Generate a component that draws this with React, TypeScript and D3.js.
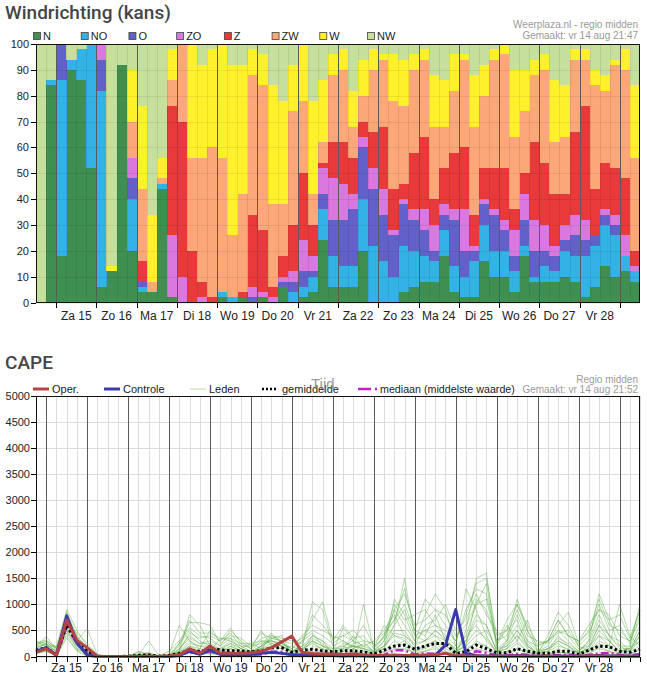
import * as d3 from "d3";

// windrichting, kans in % per 6 uur (14 aug 12:00 .. 29 aug 06:00)
const DIR_N = [0,84,18,90,86,52,6,12,92,20, 4,4,44,2,0,0,0,0,2,0, 2,0,2,0,6,0,2,4,24,6, 6,6,20,0,0,0,4,6,8,8, 18,4,2,2,16,10,10,4,18,8, 8,8,10,8,2,6,14,10,12,8];
const DIR_NO = [0,2,68,4,12,48,76,0,0,20, 2,0,2,0,0,0,0,0,2,2, 0,0,0,0,0,4,4,6,12,12, 8,8,20,22,16,10,18,14,10,8, 10,10,8,14,14,10,10,8,4,2, 6,4,10,10,16,16,16,16,6,4];
const DIR_O = [0,0,14,0,0,0,12,0,0,8, 2,0,0,0,0,0,0,0,0,0, 0,2,0,0,2,4,6,2,6,14, 18,22,20,22,18,16,16,12,10,4, 6,18,10,4,8,14,8,6,10,10, 6,6,4,8,6,4,4,4,0,0];
const DIR_ZO = [0,0,0,0,0,0,6,0,0,8, 0,0,0,24,10,0,2,0,0,0, 0,4,2,2,2,4,12,6,10,16, 14,6,4,8,10,2,2,4,8,10, 4,4,16,2,2,2,4,10,10,12, 10,4,6,8,8,0,2,4,8,2];
const DIR_Z = [0,0,0,0,0,0,0,0,0,0, 8,0,0,50,60,20,6,2,0,0, 2,28,24,4,8,18,26,12,2,14, 16,14,6,14,24,16,6,22,28,10, 14,22,24,12,12,16,20,8,8,30, 24,20,12,32,44,18,18,18,22,6];
const DIR_ZW = [0,0,0,0,0,0,0,0,0,14, 28,4,2,10,30,36,48,58,52,24, 38,54,56,32,20,44,28,12,8,26, 28,12,10,24,26,34,30,32,30,28, 16,24,34,34,28,42,44,28,24,26, 36,20,22,28,18,40,28,40,42,36];
const DIR_W = [0,0,0,0,0,0,0,2,0,20, 32,26,8,12,0,44,36,38,44,66, 50,10,12,46,40,18,22,36,24,8, 8,14,14,8,2,18,18,6,4,20, 18,14,2,20,12,4,4,26,16,6, 6,24,20,4,4,6,6,2,8,28];
const DIR_NW = [100,14,0,6,2,0,0,86,8,10, 24,66,44,2,0,0,8,2,0,8, 8,2,4,16,22,8,0,22,14,4, 2,18,6,2,4,4,6,4,2,12, 14,4,4,12,8,2,0,10,10,6, 4,14,16,2,2,10,12,6,2,16];

const DIR_KEYS = ["N", "NO", "O", "ZO", "Z", "ZW", "W", "NW"];
const DIR_COLORS = ["#3f8f50", "#33b2e6", "#6161c9", "#d978de", "#e8393b", "#fba777", "#fff02c", "#c4e09c"];
const DIR_VALUES = [DIR_N, DIR_NO, DIR_O, DIR_ZO, DIR_Z, DIR_ZW, DIR_W, DIR_NW];

const DAY_LABELS = ["Za 15", "Zo 16", "Ma 17", "Di 18", "Wo 19", "Do 20", "Vr 21", "Za 22", "Zo 23", "Ma 24", "Di 25", "Wo 26", "Do 27", "Vr 28"];

// CAPE per 6 uur (14 aug 18:00 .. 29 aug 12:00)
const CAPE_OPER = [80, 150,20,700,310, 170,0,0,0, 0,0,5,0, 10,35,150,60, 200,60,60,60, 70,100,170,280, 390,80,60,50, 50,40,50,30, 20,20,30,20, 20,30,30,60, 10,10,10,5, 5,5,10,5, 5,5,5,5, 5,10,10,5, 5,5,5];
const CAPE_CONTROLE = [100, 170,30,780,260, 30,0,0,0, 0,0,0,0, 0,20,100,40, 120,40,30,30, 40,60,80,60, 40,30,20,20, 20,10,20,10, 5,10,20,10, 5,10,25,217, 900,58,20,10, 10,5,20,10, 5,5,10,5, 5,10,20,10, 10,5,10];
const CAPE_MEAN = [120, 170,30,600,280, 110,5,0,0, 5,20,30,5, 20,60,120,100, 140,130,110,110, 90,110,170,170, 80,120,140,110, 90,110,110,90, 45,120,200,220, 140,200,250,250, 60,90,220,150, 70,70,150,100, 60,60,100,100, 40,120,200,190, 100,80,140];
const CAPE_MEDIAN = [100, 150,20,580,250, 60,0,0,0, 0,0,10,0, 0,30,80,60, 100,80,60,50, 30,40,90,90, 20,40,60,40, 30,40,40,20, 10,30,120,120, 40,60,50,60, 10,30,100,70, 20,20,50,30, 10,20,30,30, 10,30,60,70, 30,20,50];

const LEDEN = [
  [150, 250,80,850,400, 150,0,0,20, 0,30,60,0, 20,150,400,250, 300,200,350,150, 100,300,250,200, 100,150,1050,900, 200,300,150,250, 100,200,600,1500, 400,300,500,350, 100,400,600,300, 100,200,500,250, 50,100,300,200, 50,150,500,300, 100,150,400],
  [250, 280,120,600,300, 540,20,0,0, 10,80,20,0, 0,100,800,600, 200,100,200,100, 80,150,400,300, 50,100,300,200, 100,550,300,100, 50,300,900,600, 300,800,1200,900, 200,1300,900,400, 50,300,1100,500, 100,150,250,100, 100,300,1200,700, 200,100,300],
  [100, 150,50,700,250, 100,0,10,0, 0,20,300,20, 50,600,300,150, 500,300,550,250, 150,500,200,150, 200,100,400,300, 50,200,100,1000, 150,600,400,300, 100,200,300,150, 50,500,1500,1600, 200,600,300,100, 50,100,400,200, 50,100,400,200, 50,200,1000],
  [200, 380,150,500,200, 80,10,0,0, 0,50,10,0, 10,80,200,100, 100,350,300,150, 250,150,350,400, 50,300,450,200, 150,150,400,150, 50,150,1100,800, 300,500,400,300, 150,300,800,600, 100,150,300,700, 100,300,700,400, 150,200,600,400, 300,100,500],
  [300, 200,200,900,500, 200,0,0,0, 20,0,40,10, 0,250,500,300, 200,150,250,100, 50,200,450,250, 100,200,300,100, 50,100,200,150, 100,400,700,1000, 500,400,800,300, 100,200,1100,900, 300,500,700,200, 50,400,850,600, 200,100,300,200, 1000,400,200],
  [80, 100,30,450,150, 50,0,0,0, 0,0,20,0, 0,50,150,100, 50,50,100,50, 50,100,150,50, 0,0,200,150, 0,50,100,50, 0,100,300,200, 50,100,200,50, 0,100,300,200, 0,50,150,50, 0,50,100,50, 0,50,200,100, 0,50,150],
  [180, 230,100,750,350, 120,0,0,0, 0,10,0,0, 30,200,650,650, 600,250,400,350, 200,250,300,250, 150,400,600,500, 400,300,200,200, 300,500,800,400, 200,600,700,1000, 500,700,1200,800, 500,300,600,300, 200,300,500,400, 300,600,900,800, 400,300,900],
  [120, 170,60,550,200, 30,0,0,0, 0,0,0,0, 0,100,300,200, 150,100,150,80, 100,150,250,200, 80,150,250,150, 50,100,250,300, 80,150,500,500, 200,300,400,200, 100,200,400,500, 150,200,400,150, 50,100,200,150, 50,200,400,300, 100,150,300],
  [50, 120,20,400,100, 0,0,0,0, 0,0,0,0, 0,30,100,50, 50,80,150,80, 50,100,100,50, 30,50,150,100, 0,50,150,50, 20,80,200,300, 100,150,250,100, 50,150,250,200, 50,100,250,100, 0,50,150,50, 50,100,250,150, 50,100,200],
  [220, 300,180,650,450, 250,30,10,0, 0,100,50,20, 100,300,550,400, 350,200,500,300, 150,350,400,350, 300,250,700,1050, 300,600,350,400, 150,400,1000,700, 800,900,600,500, 300,900,1300,1200, 300,400,900,400, 300,250,600,850, 250,500,1100,600, 500,300,700],
  [140, 200,100,800,300, 100,0,0,0, 0,0,10,0, 0,150,350,250, 250,150,300,200, 100,200,350,300, 100,200,400,300, 150,200,300,200, 100,300,600,900, 400,500,600,400, 200,400,1000,1400, 150,300,800,300, 100,200,500,300, 100,300,800,400, 200,200,600],
  [90, 130,40,500,150, 60,0,0,0, 0,0,0,0, 0,60,200,150, 100,50,200,100, 60,150,200,150, 50,100,300,200, 80,150,200,100, 50,200,400,350, 150,200,300,200, 80,250,500,350, 80,150,400,200, 50,150,300,200, 80,150,600,300, 80,100,400],
  [260, 320,140,700,300, 150,10,0,0, 0,20,80,0, 20,120,450,350, 400,300,450,200, 200,450,350,300, 250,350,500,400, 250,400,300,600, 200,350,900,1200, 600,700,900,800, 400,600,1000,1100, 250,700,1000,600, 250,300,450,500, 200,400,1000,500, 600,250,800],
  [170, 240,90,600,250, 80,0,0,0, 0,0,30,0, 0,80,250,200, 200,120,250,150, 80,200,300,200, 80,150,350,250, 100,250,200,150, 80,200,450,400, 250,300,500,300, 150,300,700,600, 100,250,500,200, 80,150,350,250, 100,250,700,400, 150,150,500],
  [60, 100,10,350,120, 20,0,0,0, 0,0,0,0, 0,20,80,60, 60,40,80,50, 30,60,80,60, 20,40,100,80, 20,40,80,40, 20,50,150,150, 80,100,150,80, 30,80,150,100, 30,60,150,80, 20,40,80,60, 30,60,150,100, 40,60,120],
  [200, 260,160,800,380, 180,20,0,0, 0,40,0,0, 40,250,700,450, 450,350,350,250, 250,300,300,250, 150,300,800,600, 350,400,500,300, 250,450,700,1300, 500,1100,900,600, 300,800,1400,1500, 400,500,1000,500, 200,300,700,400, 300,450,900,700, 800,350,900],
];

const CAPE_TICKS = [0, 500, 1000, 1500, 2000, 2500, 3000, 3500, 4000, 4500, 5000];
const WIND_TICKS = [0, 10, 20, 30, 40, 50, 60, 70, 80, 90, 100];

const H6 = 6 * 3600 * 1000;
const WIND_START = Date.UTC(2015, 7, 14, 12);
const WIND_END = Date.UTC(2015, 7, 29, 12);
const CAPE_START = Date.UTC(2015, 7, 14, 18);

const FONT = "'Liberation Sans', Arial, sans-serif";
const TITLE_FONT = "Roboto, 'Liberation Sans', sans-serif";

function DayAxis({ x, top, bottom, labelY, minor }: { x: d3.ScaleTime<number, number>; top: number; bottom: number; labelY: number; minor: boolean }) {
  const [d0, d1] = x.domain();
  const days = d3.utcDay.range(d3.utcDay.ceil(d0), new Date(+d1 + 1));
  const sixes = d3.utcHour.every(6)!.range(d0, new Date(+d1 + 1));
  const ticks = minor ? sixes : days;
  return (
    <g>
      {days.map((d) => (
        <line key={+d} x1={Math.round(x(d)) + 0.5} x2={Math.round(x(d)) + 0.5} y1={top} y2={bottom} stroke="#5a5a5a" strokeWidth={1} />
      ))}
      {ticks.map((d) => (
        <line key={"t" + +d} x1={Math.round(x(d)) + 0.5} x2={Math.round(x(d)) + 0.5} y1={bottom} y2={bottom + 5} stroke="#000" strokeWidth={1} />
      ))}
      {DAY_LABELS.map((lab, i) => {
        const noon = d3.utcHour.offset(days[i], 12);
        return (
          <text key={lab} x={x(noon)} y={labelY} textAnchor="middle" fontSize={12} fill="#222" fontFamily={FONT}>
            {lab}
          </text>
        );
      })}
    </g>
  );
}

export default function App() {
  const left = 36;
  const right = 640;

  // ---- windrichting
  const xw = d3.scaleUtc().domain([new Date(WIND_START), new Date(WIND_END)]).range([left, right]);
  const yw = d3.scaleLinear().domain([0, 100]).range([302.5, 44]);
  const rows = DIR_N.map((_, i) => {
    const r: Record<string, number> = { i };
    DIR_KEYS.forEach((k, j) => (r[k] = DIR_VALUES[j][i]));
    return r;
  });
  const stacked = d3.stack<Record<string, number>>().keys(DIR_KEYS)(rows);
  const barTime = (i: number) => new Date(WIND_START + i * H6);

  // ---- CAPE
  const xc = d3.scaleUtc().domain([new Date(CAPE_START), new Date(WIND_END)]).range([left, right]);
  const yc = d3.scaleLinear().domain([0, 5000]).range([656.5, 396]);
  const line = d3
    .line<number>()
    .x((_, k) => xc(new Date(CAPE_START + k * H6)))
    .y((v) => yc(v));
  const capeSixes = d3.utcHour.every(6)!.range(new Date(CAPE_START), new Date(WIND_END + 1));

  const legendX = d3.scaleLinear().domain([0, 7]).range([33, 367]);

  return (
    <svg width={647} height={674} style={{ position: "absolute", left: 0, top: 0, background: "#fff" }} fontFamily={FONT}>
      {/* ===== Windrichting ===== */}
      <text x={5} y={19} fontSize={19} fontWeight={500} fill="#454545" fontFamily={TITLE_FONT}>
        Windrichting (kans)
      </text>
      <text x={638} y={28} textAnchor="end" fontSize={10} fill="#9a9a9a">Weerplaza.nl - regio midden</text>
      <text x={638} y={39} textAnchor="end" fontSize={10} fill="#9a9a9a">Gemaakt: vr 14 aug 21:47</text>

      {DIR_KEYS.map((k, j) => (
        <g key={k} transform={`translate(${legendX(j)},0)`}>
          <rect x={0.5} y={32.5} width={7} height={7} fill={DIR_COLORS[j]} stroke="#444" strokeWidth={0.8} />
          <text x={10} y={40} fontSize={11} fill="#222">{k}</text>
        </g>
      ))}

      <g shapeRendering="crispEdges">
        {stacked.map((s, j) =>
          s.map((d, i) =>
            d[1] > d[0] ? (
              <rect
                key={`${j}-${i}`}
                x={xw(barTime(i))}
                width={xw(barTime(i + 1)) - xw(barTime(i)) + 0.3}
                y={yw(d[1])}
                height={yw(d[0]) - yw(d[1])}
                fill={DIR_COLORS[j]}
              />
            ) : null
          )
        )}
        {WIND_TICKS.map((t) => (
          <line key={t} x1={left} x2={right} y1={Math.round(yw(t)) + 0.5} y2={Math.round(yw(t)) + 0.5} stroke="rgba(0,0,0,0.07)" />
        ))}
        {DIR_N.map((_, i) => (
          <line key={"v" + i} x1={Math.round(xw(barTime(i))) + 0.5} x2={Math.round(xw(barTime(i))) + 0.5} y1={44} y2={302} stroke="rgba(0,0,0,0.08)" />
        ))}
        <DayAxis x={xw} top={44} bottom={302.5} labelY={320} minor={false} />
        {WIND_TICKS.map((t) => (
          <line key={"y" + t} x1={31} x2={left} y1={Math.round(yw(t)) + 0.5} y2={Math.round(yw(t)) + 0.5} stroke="#000" />
        ))}
        <rect x={left + 0.5} y={44.5} width={right - left - 1} height={258} fill="none" stroke="#111" strokeWidth={1.2} />
      </g>
      {WIND_TICKS.map((t) => (
        <text key={"yl" + t} x={29} y={yw(t) + 4} textAnchor="end" fontSize={11} fill="#222">
          {t}
        </text>
      ))}

      {/* ===== CAPE ===== */}
      <text x={5} y={369} fontSize={19} fontWeight={500} fill="#454545" fontFamily={TITLE_FONT}>
        CAPE
      </text>
      <text x={638} y={383} textAnchor="end" fontSize={10} fill="#9a9a9a">Regio midden</text>
      <text x={638} y={393} textAnchor="end" fontSize={10} fill="#9a9a9a">Gemaakt: vr 14 aug 21:52</text>

      <g>
        <line x1={33} x2={49} y1={389} y2={389} stroke="#b44444" strokeWidth={3} />
        <text x={52} y={393} fontSize={11} fill="#222">Oper.</text>
        <line x1={104} x2={120} y1={389} y2={389} stroke="#3a3aae" strokeWidth={3} />
        <text x={123} y={393} fontSize={11} fill="#222">Controle</text>
        <line x1={190} x2={206} y1={389} y2={389} stroke="#b9dcae" strokeWidth={1} />
        <text x={209} y={393} fontSize={11} fill="#222">Leden</text>
        <line x1={262} x2={277} y1={389} y2={389} stroke="#000" strokeWidth={2.5} strokeDasharray="2,2" />
        <text x={282} y={393} fontSize={11} fill="#222">gemiddelde</text>
        <text x={311} y={389} fontSize={15} fill="#8a8a8a" opacity={0.85}>Tijd</text>
        <line x1={358} x2={371} y1={389} y2={389} stroke="#c021c8" strokeWidth={2.5} />
        <line x1={375} x2={377} y1={389} y2={389} stroke="#c021c8" strokeWidth={2.5} />
        <text x={380} y={393} fontSize={10.7} fill="#222">mediaan (middelste waarde)</text>
      </g>

      <g shapeRendering="crispEdges">
        {capeSixes.map((d) => (
          <line key={+d} x1={Math.round(xc(d)) + 0.5} x2={Math.round(xc(d)) + 0.5} y1={396} y2={656} stroke="#dcdcdc" />
        ))}
        {CAPE_TICKS.map((t) => (
          <line key={t} x1={left} x2={right} y1={Math.round(yc(t)) + 0.5} y2={Math.round(yc(t)) + 0.5} stroke="#dcdcdc" />
        ))}
        <DayAxis x={xc} top={396} bottom={656.5} labelY={672} minor={true} />
        {CAPE_TICKS.map((t) => (
          <line key={"yt" + t} x1={31} x2={left} y1={Math.round(yc(t)) + 0.5} y2={Math.round(yc(t)) + 0.5} stroke="#000" />
        ))}
      </g>
      {CAPE_TICKS.map((t) => (
        <text key={"cl" + t} x={30} y={yc(t) + 4} textAnchor="end" fontSize={11} fill="#222">
          {t}
        </text>
      ))}

      <g fill="none" strokeLinejoin="round">
        {LEDEN.map((m, i) => (
          <path key={i} d={line(m) ?? ""} stroke="#4fa838" strokeOpacity={0.42} strokeWidth={1} />
        ))}
        <path d={line(CAPE_MEDIAN) ?? ""} stroke="#c021c8" strokeWidth={2.5} strokeDasharray="8,3,2,3" />
        <path d={line(CAPE_MEAN) ?? ""} stroke="#000" strokeWidth={3} strokeDasharray="2.5,2.5" />
        <path d={line(CAPE_CONTROLE) ?? ""} stroke="#3a3aae" strokeWidth={3} />
        <path d={line(CAPE_OPER) ?? ""} stroke="#b44444" strokeWidth={3} />
      </g>
      <rect x={left + 0.5} y={396.5} width={right - left - 1} height={260} fill="none" stroke="#111" strokeWidth={1.2} shapeRendering="crispEdges" />
    </svg>
  );
}
